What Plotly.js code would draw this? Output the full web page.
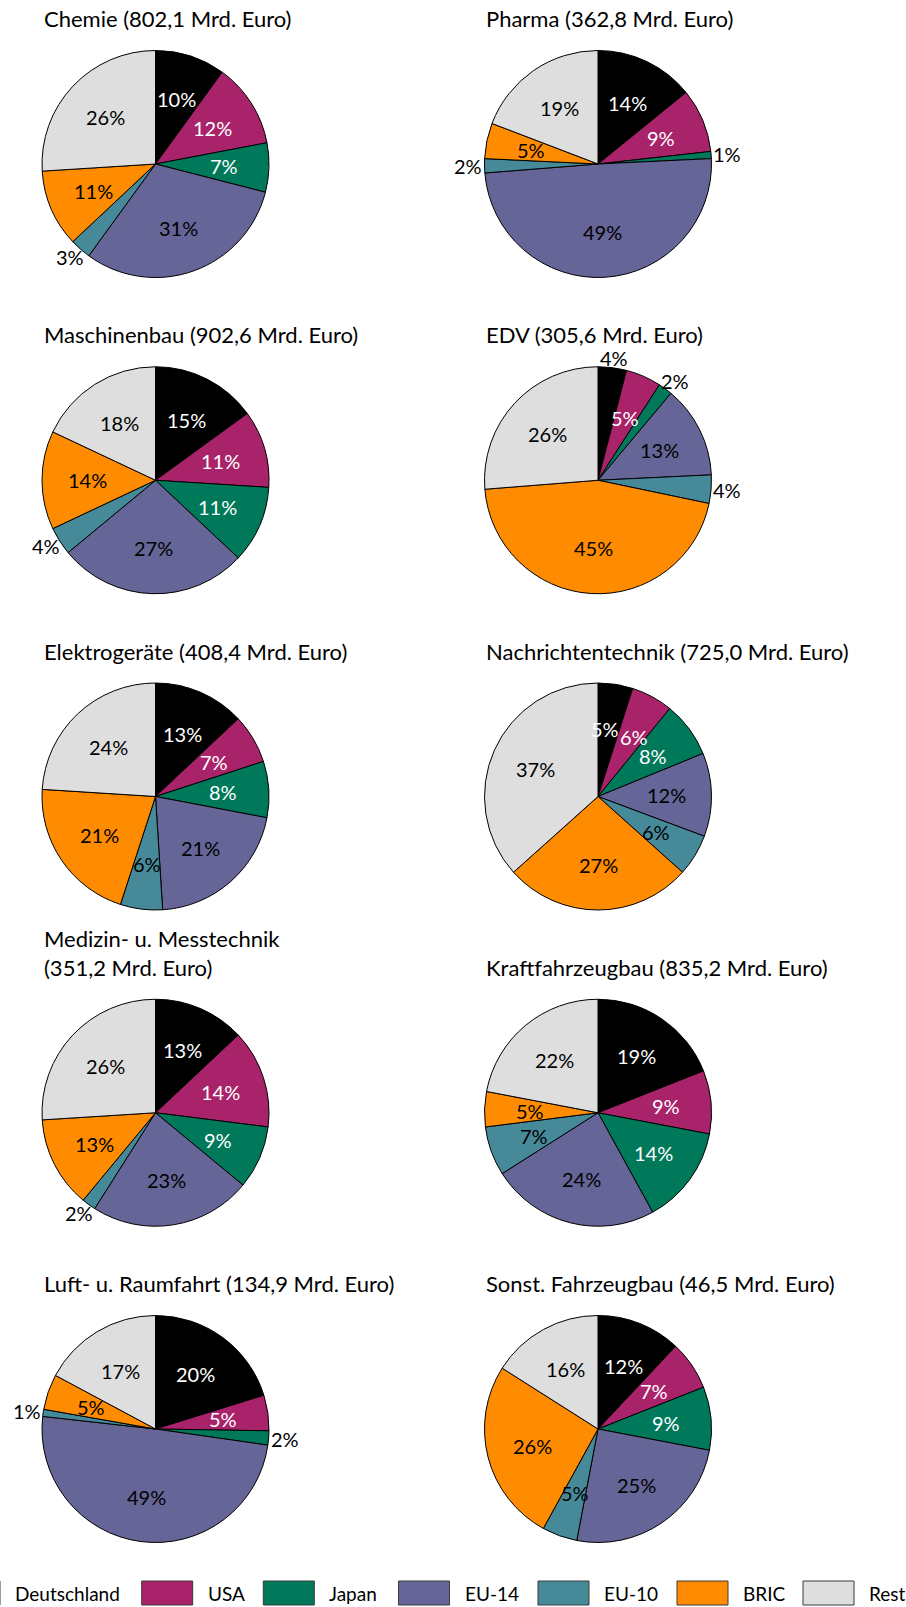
<!DOCTYPE html>
<html>
<head>
<meta charset="utf-8">
<script src="https://cdn.plot.ly/plotly-3.0.1.min.js"></script>
<style>html,body{margin:0;padding:0;background:#fff;}#chart{width:906px;height:1607px;}</style>
</head>
<body>
<div id="chart"></div>
<script>
// ---------- data ----------
const categories = ['Deutschland', 'USA', 'Japan', 'EU-14', 'EU-10', 'BRIC', 'Rest'];
const colors = ['#000000', '#A9236B', '#00795A', '#656597', '#468A99', '#FF8C00', '#DEDEDE'];
const titles = [
  'Chemie (802,1 Mrd. Euro)',
  'Pharma (362,8 Mrd. Euro)',
  'Maschinenbau (902,6 Mrd. Euro)',
  'EDV (305,6 Mrd. Euro)',
  'Elektrogeräte (408,4 Mrd. Euro)',
  'Nachrichtentechnik (725,0 Mrd. Euro)',
  'Medizin- u. Messtechnik<br>(351,2 Mrd. Euro)',
  'Kraftfahrzeugbau (835,2 Mrd. Euro)',
  'Luft- u. Raumfahrt (134,9 Mrd. Euro)',
  'Sonst. Fahrzeugbau (46,5 Mrd. Euro)'
];
// shares in % per category (Deutschland, USA, Japan, EU-14, EU-10, BRIC, Rest)
const chemie        = [10, 12, 7, 31, 3, 11, 26];
const pharma        = [14, 9, 1, 49, 2, 5, 19];
const maschinenbau  = [15, 11, 11, 27, 4, 14, 18];
const edv           = [4, 5, 2, 13, 4, 45, 26];
const elektro       = [13, 7, 8, 21, 6, 21, 24];
const nachrichten   = [5, 6, 8, 12, 6, 27, 37];
const medizin       = [13, 14, 9, 23, 2, 13, 26];
const kfz           = [19, 9, 14, 24, 7, 5, 22];
const luftraum      = [20, 5, 2, 49, 1, 5, 17];
const sonstFzg      = [12, 7, 9, 25, 5, 26, 16];
const series = [chemie, pharma, maschinenbau, edv, elektro, nachrichten, medizin, kfz, luftraum, sonstFzg];

// ---------- layout constants ----------
const W = 906, H = 1607;
const FONT = 'Lato, "Open Sans", sans-serif';
const colCx = [155.5, 598];
const row0Cy = 164, rowStep = 316.25, R = 113.5;
const titleX = [41.5, 484];
const titleBaseOffset = -136; // title baseline relative to pie centre
const labelSize = 20, titleSize = 22, legendSize = 19;
const insideTextColor = ['#ffffff', '#ffffff', '#ffffff', '#000000', '#000000', '#000000', '#000000'];
const insideRadius = 0.6;   // label centre for inside labels (fraction of radius)
const outsideGap = 2;       // gap between pie edge and outside label box

function textW(txt) { return ((txt.length - 1) * 0.58 + 0.84) * labelSize; }

const traces = [];
const annotations = [];
series.forEach((vals, i) => {
  const col = i % 2, row = Math.floor(i / 2);
  const cx = colCx[col], cy = row0Cy + rowStep * row;
  traces.push({
    type: 'pie',
    values: vals,
    labels: categories,
    textinfo: 'none',
    sort: false,
    direction: 'clockwise',
    rotation: 0,
    marker: {colors: colors, line: {color: '#000000', width: 1}},
    domain: {x: [(cx - R) / W, (cx + R) / W], y: [1 - (cy + R) / H, 1 - (cy - R) / H]},
    showlegend: false,
    hoverinfo: 'label+percent',
    name: titles[i].replace('<br>', ' ')
  });

  // data labels: placed on each slice's bisector (best-fit style)
  const total = vals.reduce((a, b) => a + b, 0);
  let cum = 0;
  const labs = [];
  vals.forEach((v, k) => {
    const mid = (cum + v / 2) / total;
    cum += v;
    const th = 2 * Math.PI * mid;
    const ux = Math.sin(th), uy = -Math.cos(th);
    const txt = v + '%';
    const outside = v <= 4;
    let px, py;
    if (outside) {
      const hw = textW(txt) / 2;
      const hh = 8;
      px = cx + (R + outsideGap + hw) * ux;
      py = cy + (R + outsideGap + hh) * uy;
    } else {
      px = cx + insideRadius * R * ux;
      py = cy + insideRadius * R * uy;
    }
    labs.push({px, py, txt, w: textW(txt), color: outside ? '#000000' : insideTextColor[k]});
  });
  // nudge neighbouring labels apart horizontally when they would collide
  for (let k = 0; k < labs.length - 1; k++) {
    const a = labs[k], b = labs[k + 1];
    const needX = (a.w + b.w) / 2 + 1;
    const dx = b.px - a.px, dy = Math.abs(b.py - a.py);
    if (dy < labelSize * 0.9 && Math.abs(dx) < needX) {
      const push = (needX - Math.abs(dx)) / 2;
      const s = dx >= 0 ? 1 : -1;
      a.px -= s * push;
      b.px += s * push;
    }
  }
  labs.forEach(l => {
    annotations.push({
      xref: 'paper', yref: 'paper',
      x: l.px / W, y: 1 - l.py / H,
      xanchor: 'center', yanchor: 'middle',
      text: l.txt, showarrow: false,
      font: {family: FONT, size: labelSize, color: l.color}
    });
  });

  const baseline = cy + titleBaseOffset;
  annotations.push({
    xref: 'paper', yref: 'paper',
    x: titleX[col] / W, y: 1 - (baseline + 6) / H,
    xanchor: 'left', yanchor: 'bottom', align: 'left',
    text: titles[i], showarrow: false,
    font: {family: FONT, size: titleSize, color: '#000000'}
  });
});

// ---------- legend (swatches + labels) ----------
const legSwatchX = [-51, 141.7, 263.3, 398.5, 538, 677, 803];
const legSwatchW = 51, legY0 = 1581, legY1 = 1605;
const shapes = [];
categories.forEach((c, k) => {
  const x0 = legSwatchX[k];
  shapes.push({
    type: 'rect', xref: 'paper', yref: 'paper',
    x0: x0 / W, x1: (x0 + legSwatchW) / W, y0: 1 - legY1 / H, y1: 1 - legY0 / H,
    fillcolor: colors[k], line: {color: '#3a3a3a', width: 1}, layer: 'above'
  });
  annotations.push({
    xref: 'paper', yref: 'paper',
    x: (x0 + legSwatchW + 13) / W, y: 1 - ((legY0 + legY1) / 2) / H,
    xanchor: 'left', yanchor: 'middle',
    text: c, showarrow: false,
    font: {family: FONT, size: legendSize, color: '#000000'}
  });
});

const layout = {
  width: W, height: H,
  margin: {l: 0, r: 0, t: 0, b: 0},
  paper_bgcolor: '#ffffff', plot_bgcolor: '#ffffff',
  font: {family: FONT, size: labelSize, color: '#000000'},
  showlegend: false,
  annotations: annotations,
  shapes: shapes
};

Plotly.newPlot('chart', traces, layout, {staticPlot: true, displayModeBar: false});
</script>
</body>
</html>
